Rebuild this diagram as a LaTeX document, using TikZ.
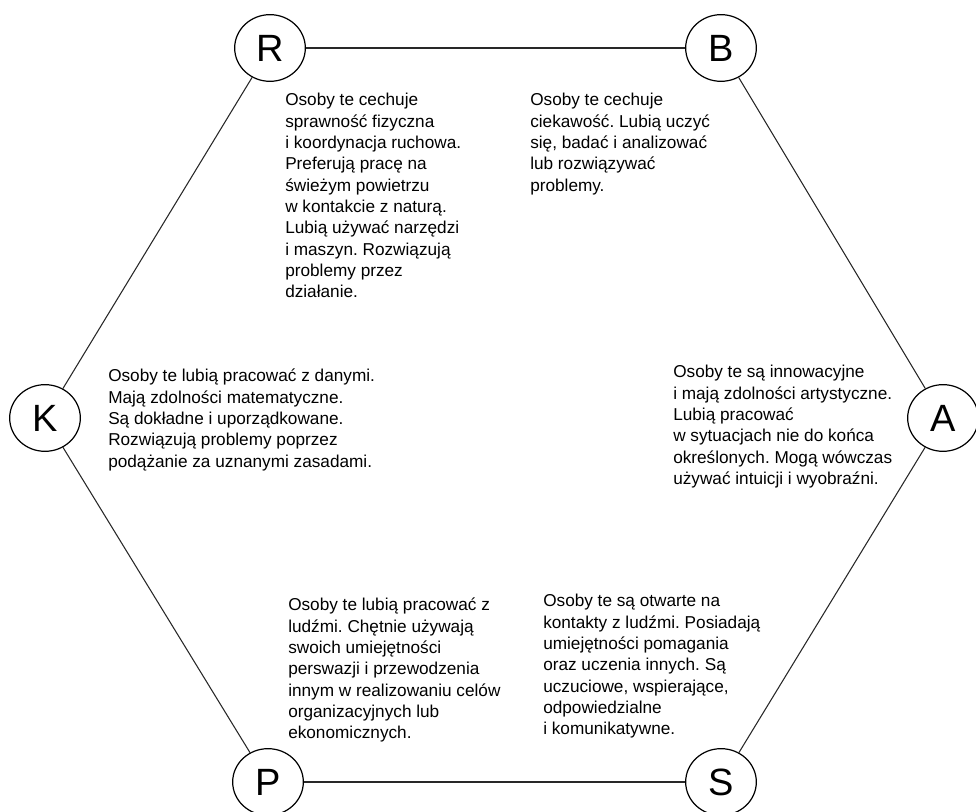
\documentclass[tikz,border=0pt]{standalone}
\usepackage{fontspec}
\setmainfont{Liberation Sans}
\usetikzlibrary{shapes.geometric}
\frenchspacing

\begin{document}
\begin{tikzpicture}[x=0.75pt,y=0.75pt,yscale=-1,xscale=1,
  letter/.style={draw, ellipse, line width=0.9pt, minimum width=53pt, minimum height=50pt, inner sep=0pt, font=\fontsize{28.5}{30}\selectfont},
  desc/.style={anchor=north west, inner sep=0.75pt, align=left, font=\fontsize{12.9}{16}\selectfont},
  edge/.style={line width=0.8pt, color={rgb, 255:red, 40; green, 40; blue, 40 }}]
\useasboundingbox (0,0) rectangle (976,812);

%Shape: Ellipse R
\draw (270,48) node [letter] (R) {R};
%Shape: Ellipse B
\draw (721,48) node [letter] (B) {B};
%Shape: Ellipse A
\draw (943,418) node [letter] (A) {A};
%Shape: Ellipse S
\draw (721,782) node [letter] (S) {S};
%Shape: Ellipse P
\draw (268,782) node [letter] (P) {P};
%Shape: Ellipse K
\draw (45,418) node [letter] (K) {K};

%Straight Lines
\draw [edge] (R) -- (B) ;
%Straight Lines
\draw [edge] (B) -- (A) ;
%Straight Lines
\draw [edge] (A) -- (S) ;
%Straight Lines
\draw [edge] (S) -- (P) ;
%Straight Lines
\draw [edge] (P) -- (K) ;
%Straight Lines
\draw [edge] (K) -- (R) ;

% Text Node
\draw (284,92) node [desc] (txtR) {Osoby te cechuje\\sprawność fizyczna\\i koordynacja ruchowa.\\Preferują pracę na\\świeżym powietrzu\\w kontakcie z naturą.\\Lubią używać narzędzi\\i maszyn. Rozwiązują\\problemy przez\\działanie.};
% Text Node
\draw (529,92) node [desc] (txtB) {Osoby te cechuje\\ciekawość. Lubią uczyć\\się, badać i analizować\\lub rozwiązywać\\problemy.};
% Text Node
\draw (107,368) node [desc] (txtK) {Osoby te lubią pracować z danymi.\\Mają zdolności matematyczne.\\Są dokładne i uporządkowane.\\Rozwiązują problemy poprzez\\podążanie za uznanymi zasadami.};
% Text Node
\draw (672,364) node [desc] (txtA) {Osoby te są innowacyjne\\i mają zdolności artystyczne.\\Lubią pracować\\w sytuacjach nie do końca\\określonych. Mogą wówczas\\używać intuicji i wyobraźni.};
% Text Node
\draw (287,597) node [desc] (txtP) {Osoby te lubią pracować z\\ludźmi. Chętnie używają\\swoich umiejętności\\perswazji i przewodzenia\\innym w realizowaniu celów\\organizacyjnych lub\\ekonomicznych.};
% Text Node
\draw (542,593) node [desc] (txtS) {Osoby te są otwarte na\\kontakty z ludźmi. Posiadają\\umiejętności pomagania\\oraz uczenia innych. Są\\uczuciowe, wspierające,\\odpowiedzialne\\i komunikatywne.};

\end{tikzpicture}
\end{document}
